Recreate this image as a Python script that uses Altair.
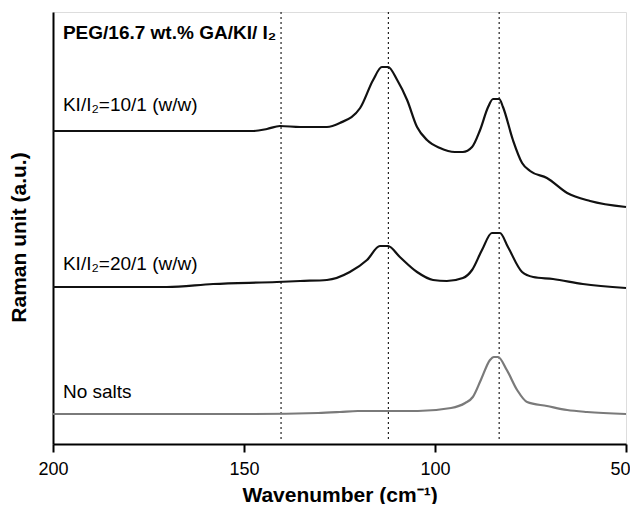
import altair as alt
import pandas as pd

# Spectrum KI/I2 = 10/1 (w/w)
x_101 = [200, 170.2, 158.1, 147.6, 144.0, 140.6, 135.3, 128.3, 124.9, 119.6, 116.2, 113.9, 112.3,
         109.9, 107.3, 104.7, 102.1, 98.7, 94.8, 92.7, 90.3, 88.2, 86.1, 84.8, 83.2, 82.2,
         79.6, 77.2, 75.1, 70.7, 65.4, 59.4, 50]
y_101 = [313, 313, 313, 313, 315, 318, 317, 317, 321, 336, 364, 377, 377,
         364, 344, 317, 304, 296, 292, 292, 297, 314, 337, 345, 345, 337,
         304, 281, 273, 266, 251, 243, 237]

# Spectrum KI/I2 = 20/1 (w/w)
x_201 = [200, 170.2, 158.1, 141.4, 135.3, 128.3, 122.3, 117.8, 114.4, 112.3, 109.2, 104.7,
         100.5, 96.9, 92.7, 90.3, 87.7, 85.1, 83.0, 80.9, 77.2, 74.3, 69.1, 61.3, 50]
y_201 = [157, 157, 160, 162, 163, 164, 172, 184, 198, 198, 187, 172,
         164, 163, 166, 174, 194, 211, 211, 197, 172, 167, 165, 160, 156]

# Spectrum: no salts
x_ns = [200, 170.2, 147.6, 130.6, 124.9, 120.2, 112.3, 104.5, 95.8, 92.1, 90.1, 88.0,
        85.6, 84.6, 83.5, 81.2, 78.5, 75.9, 70.7, 65.4, 60.2, 50]
y_ns = [30, 30, 30, 31, 32, 33, 33, 33, 36, 41, 47, 64,
        84, 87, 87, 74, 54, 42, 38, 34, 32, 30]

# Reference peak positions (dotted lines)
peaks = [140.3, 112.2, 83.2]

# Annotations
label_text = ["PEG/16.7 wt.% GA/KI/ I\u2082", "KI/I\u2082=10/1 (w/w)",
              "KI/I\u2082=20/1 (w/w)", "No salts"]
label_y = [411, 339, 180, 52]
label_bold = [True, False, False, False]

x_ticks = [200, 150, 100, 50]

FONT = "Liberation Sans"

rows = []
for name, xs, ys in [("10/1", x_101, y_101), ("20/1", x_201, y_201), ("none", x_ns, y_ns)]:
    for i, (a, b) in enumerate(zip(xs, ys)):
        rows.append({"series": name, "wn": a, "I": b, "order": i})
df = pd.DataFrame(rows)

xscale = alt.Scale(domain=[200, 50], nice=False, zero=False)
yscale = alt.Scale(domain=[0, 432], nice=False, zero=False)

xaxis = alt.Axis(values=x_ticks, title="Wavenumber (cm\u207b\u00b9)", grid=False,
                 tickSize=8, tickWidth=2, tickColor="black", domainColor="black",
                 domainWidth=2, labelFontSize=18, labelFont=FONT, labelColor="black",
                 labelPadding=8, titleFontSize=21, titleFont=FONT, titleFontWeight="bold",
                 titleColor="black", titlePadding=6, labelFlush=False,
                 labelOffset={"condition": {"test": "datum.value == 50", "value": -6},
                              "value": 0})
yaxis = alt.Axis(title="Raman unit (a.u.)", grid=False, ticks=False, labels=False,
                 domainColor="black", domainWidth=2, titleFontSize=21, titleFont=FONT,
                 titleFontWeight="bold", titleColor="black", titleX=-34, titleY=225,
                 titleAngle=270, titleBaseline="middle", titleAlign="center")

lines = alt.Chart(df).mark_line(strokeWidth=2.2, interpolate="monotone").encode(
    x=alt.X("wn:Q", scale=xscale, axis=xaxis),
    y=alt.Y("I:Q", scale=yscale, axis=yaxis),
    detail="series:N",
    order="order:Q",
    color=alt.Color("series:N", scale=alt.Scale(domain=["10/1", "20/1", "none"],
                                                range=["#111111", "#111111", "#7a7a7a"]),
                    legend=None),
)

rules = alt.Chart(pd.DataFrame({"wn": peaks})).mark_rule(
    color="#222222", strokeWidth=1.2, strokeDash=[2, 3]).encode(
    x=alt.X("wn:Q", scale=xscale),
    y=alt.value(0),
    y2=alt.value(428),
)

lab = pd.DataFrame({"t": label_text, "y": label_y, "b": label_bold})
lab["wn"] = 197.4

text_bold = alt.Chart(lab[lab["b"]]).mark_text(
    align="left", baseline="middle", fontSize=19, font=FONT, fontWeight="bold",
    color="black").encode(
    x=alt.X("wn:Q", scale=xscale), y=alt.Y("y:Q", scale=yscale), text="t:N")

text_norm = alt.Chart(lab[~lab["b"]]).mark_text(
    align="left", baseline="middle", fontSize=19, font=FONT, color="black").encode(
    x=alt.X("wn:Q", scale=xscale), y=alt.Y("y:Q", scale=yscale), text="t:N")

chart = alt.layer(rules, lines, text_bold, text_norm).properties(
    width=573, height=432,
    autosize=alt.AutoSizeParams(type="none"),
    padding={"left": 45, "top": 4, "right": 4, "bottom": 60},
).configure_view(stroke="black", strokeWidth=2).configure(background="white")

chart.save("out.html", embed_options={"renderer": "svg", "actions": False})
